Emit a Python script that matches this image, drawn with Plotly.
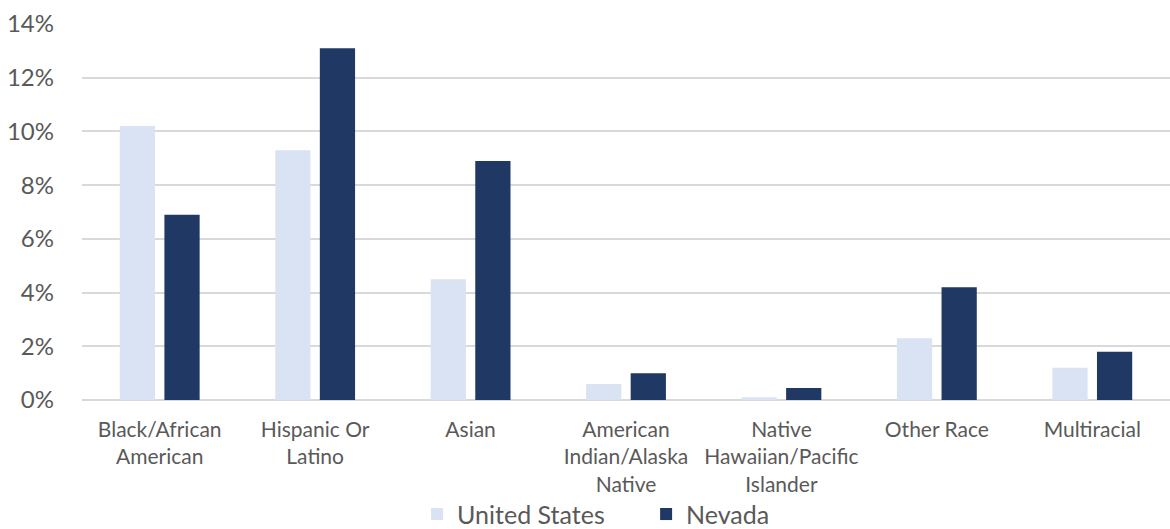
import plotly.graph_objects as go

categories = ["Black/African<br>American", "Hispanic Or<br>Latino", "Asian",
              "American<br>Indian/Alaska<br>Native", "Native<br>Hawaiian/Pacific<br>Islander",
              "Other Race", "Multiracial"]
us_values = [10.2, 9.3, 4.5, 0.6, 0.1, 2.3, 1.2]
nv_values = [6.9, 13.1, 8.9, 1.0, 0.45, 4.2, 1.8]
y_ticks = [0, 2, 4, 6, 8, 10, 12, 14]
y_tick_labels = ["0%", "2%", "4%", "6%", "8%", "10%", "12%", "14%"]

FONT = "Lato"
GREY = "#595959"

fig = go.Figure()
fig.add_trace(go.Bar(name="United States", x=categories, y=us_values,
                     marker=dict(color="#dae3f3", line=dict(width=0))))
fig.add_trace(go.Bar(name="Nevada", x=categories, y=nv_values,
                     marker=dict(color="#203864", line=dict(width=0))))

fig.update_layout(
    width=1170, height=529,
    margin=dict(l=82, r=0, t=24, b=129, autoexpand=False),
    plot_bgcolor="white", paper_bgcolor="white",
    barmode="group", bargap=0.426, bargroupgap=0.21,
    font=dict(family=FONT, color=GREY, size=21),
    showlegend=True,
    legend=dict(orientation="h", x=0.308, xanchor="left", y=-0.304, yanchor="middle",
                entrywidth=184, entrywidthmode="pixels", bgcolor="rgba(0,0,0,0)",
                font=dict(size=25, color=GREY), itemsizing="constant", traceorder="normal"),
)
fig.update_yaxes(range=[0, 14], tickmode="array", tickvals=y_ticks, ticktext=y_tick_labels,
                 showgrid=True, automargin=False,
                 gridcolor="#d9d9d9", gridwidth=1.5, zeroline=True, zerolinecolor="#d9d9d9",
                 zerolinewidth=1.5, showline=False, tickfont=dict(size=24, color=GREY),
                 ticklabelstandoff=27)
fig.update_xaxes(showline=False, showgrid=False, automargin=False,
                 tickfont=dict(size=21, color=GREY), ticklabelstandoff=15)

fig.write_html("out.html", config={"displayModeBar": False},
               post_script="document.body.style.margin='0';document.body.style.padding='0';")
